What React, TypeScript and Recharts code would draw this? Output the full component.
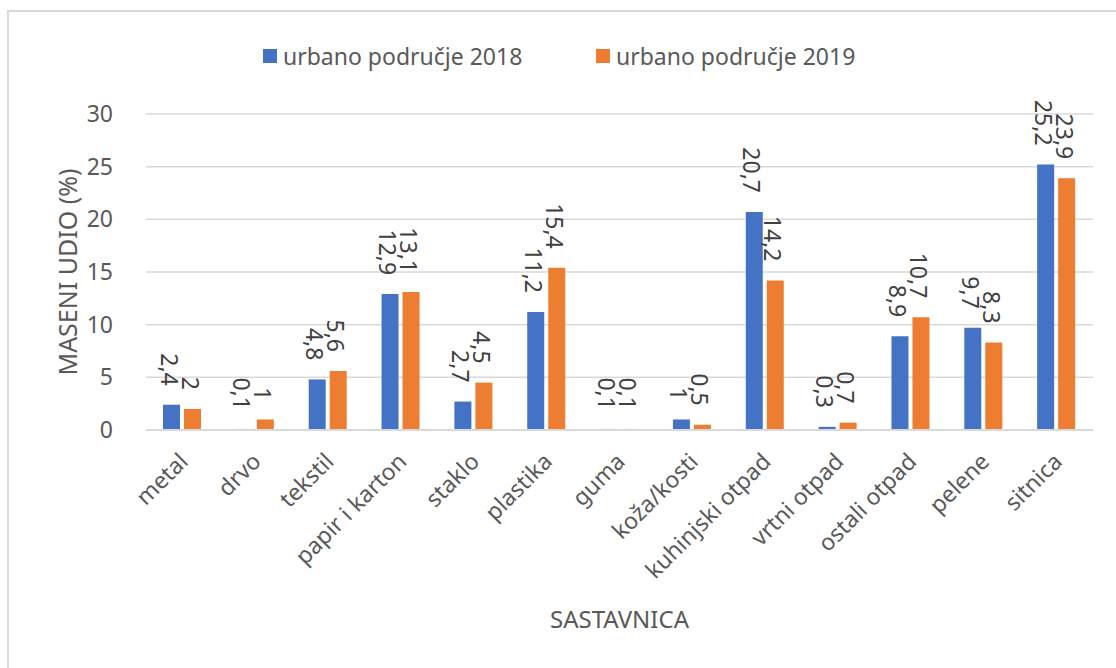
import React from "react"
import {
  BarChart,
  Bar,
  XAxis,
  YAxis,
  CartesianGrid,
  Legend,
  LabelList,
  Label,
} from "recharts"

const categories = [
  "metal",
  "drvo",
  "tekstil",
  "papir i karton",
  "staklo",
  "plastika",
  "guma",
  "koža/kosti",
  "kuhinjski otpad",
  "vrtni otpad",
  "ostali otpad",
  "pelene",
  "sitnica",
]
const urban2018 = [2.4, 0.1, 4.8, 12.9, 2.7, 11.2, 0.1, 1, 20.7, 0.3, 8.9, 9.7, 25.2]
const urban2019 = [2, 1, 5.6, 13.1, 4.5, 15.4, 0.1, 0.5, 14.2, 0.7, 10.7, 8.3, 23.9]
const yTicks = [0, 5, 10, 15, 20, 25, 30]

const seriesNames = ["urbano područje 2018", "urbano područje 2019"]
const BLUE = "#4472C4"
const ORANGE = "#ED7D31"
const FONT = "'Noto Sans', 'Open Sans', sans-serif"

const data = categories.map((name, i) => ({
  name,
  y2018: urban2018[i],
  y2019: urban2019[i],
}))

const fmt = (v: number | string) => String(v).replace(".", ",")

// labels sit above the bar, turned 90deg like the Excel original
const renderBarLabel = (props: any) => {
  const { x, y, width, value } = props
  const cx = Number(x) + Number(width) / 2
  return (
    <text
      transform={`translate(${cx - 2},${Number(y) - 19}) rotate(90)`}
      textAnchor="end"
      dominantBaseline="central"
      fontSize={23}
      fontFamily={FONT}
      fill="#404040"
    >
      {fmt(value)}
    </text>
  )
}

const renderXTick = (props: any) => {
  const { x, y, payload } = props
  return (
    <text
      transform={`translate(${x + 7},${y}) rotate(-45)`}
      textAnchor="end"
      fontSize={23}
      fontFamily={FONT}
      fill="#595959"
    >
      {payload.value}
    </text>
  )
}

const renderLegend = () => (
  <div style={{ display: "flex", fontFamily: FONT, fontSize: 23, color: "#595959" }}>
    {seriesNames.map((n, i) => (
      <div key={n} style={{ display: "flex", alignItems: "center", width: 333 }}>
        <span
          style={{
            display: "inline-block",
            width: 14,
            height: 14,
            background: i === 0 ? BLUE : ORANGE,
            marginRight: 6,
          }}
        />
        <span style={{ whiteSpace: "nowrap" }}>{n}</span>
      </div>
    ))}
  </div>
)

export default function App() {
  return (
    <div
      style={{
        position: "absolute",
        left: 0,
        top: 0,
        width: 1116,
        height: 668,
        overflow: "hidden",
        background: "#fff",
      }}
    >
      <div
        style={{
          position: "absolute",
          left: 7,
          top: 10,
          width: 1200,
          height: 800,
          border: "2px solid #D9D9D9",
        }}
      />
      <div style={{ position: "absolute", left: 0, top: 0 }}>
        <BarChart
          width={1116}
          height={668}
          data={data}
          margin={{ top: 114, right: 23, bottom: 0, left: 0 }}
          barGap={4}
          barSize={17}
        >
          <CartesianGrid vertical={false} stroke="#D9D9D9" strokeWidth={1.5} />
          <XAxis
            dataKey="name"
            height={238}
            interval={0}
            axisLine={{ stroke: "#D9D9D9", strokeWidth: 2 }}
            tickLine={false}
            tickSize={0}
            tickMargin={33}
            tick={renderXTick}
          >
            <Label
              content={(p: any) => {
                const vb = p.viewBox
                return (
                  <text
                    x={vb.x + vb.width / 2}
                    y={vb.y + 198}
                    textAnchor="middle"
                    fontSize={24}
                    fontFamily={FONT}
                    fill="#595959"
                  >
                    SASTAVNICA
                  </text>
                )
              }}
            />
          </XAxis>
          <YAxis
            width={146}
            domain={[0, 30]}
            ticks={yTicks}
            axisLine={false}
            tickLine={false}
            tickSize={0}
            tickMargin={33}
            tick={{ fontSize: 23, fontFamily: FONT, fill: "#595959" }}
          >
            <Label
              value="MASENI UDIO (%)"
              angle={-90}
              position="center"
              dx={-5}
              style={{ fontSize: 25, fontFamily: FONT, fill: "#595959" }}
            />
          </YAxis>
          <Legend
            verticalAlign="top"
            content={renderLegend}
            wrapperStyle={{ top: 40, left: 263, width: 800, height: 0 }}
          />
          <Bar dataKey="y2018" name={seriesNames[0]} fill={BLUE} isAnimationActive={false}>
            <LabelList dataKey="y2018" content={renderBarLabel} />
          </Bar>
          <Bar dataKey="y2019" name={seriesNames[1]} fill={ORANGE} isAnimationActive={false}>
            <LabelList dataKey="y2019" content={renderBarLabel} />
          </Bar>
        </BarChart>
      </div>
    </div>
  )
}
